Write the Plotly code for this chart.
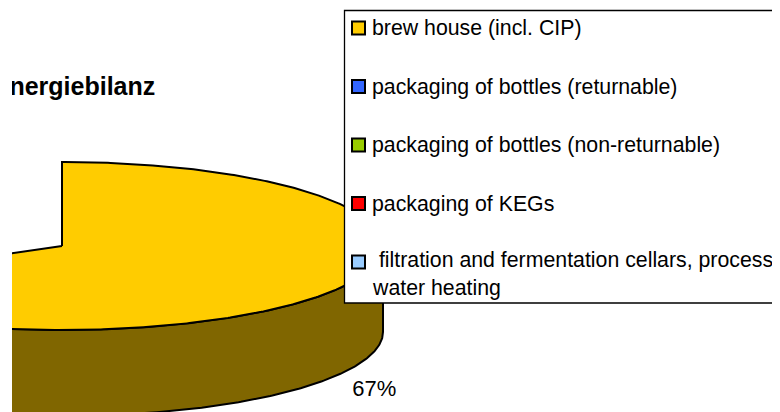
import numpy as np
import plotly.graph_objects as go

# ---------------- data ----------------
title_text = "Energiebilanz"
categories = [
    "brew house (incl. CIP)",
    "packaging of bottles (returnable)",
    "packaging of bottles (non-returnable)",
    "packaging of KEGs",
    " filtration and fermentation cellars, process<br>water heating",
]
# only the brew-house slice is visible in the picture
visible_shares = [67]
visible_labels = ["67%"]
top_colors = ["#FFCC00", "#3366FF", "#99CC00", "#FF0000", "#99CCFF"]
side_colors = ["#806600"]

# ---------------- layout parameters ----------------
W, H = 780, 412
PAGE_OFF = 8  # default page margin around the plot div
CX, CY, RX, RY, DEPTH = 62, 246, 321, 84, 86
FONT = "Liberation Sans, Arial, sans-serif"

fig = go.Figure()

start = 90.0
for share, top_c, side_c, lab in zip(visible_shares, top_colors, side_colors, visible_labels):
    sweep = share / 100.0 * 360.0
    end = start - sweep
    # side wall (front half only)
    lo, hi = max(end, -180.0), min(start, 0.0)
    if hi > lo:
        t = np.radians(np.linspace(lo, hi, 300))
        xs_top = CX + RX * np.cos(t)
        ys_top = CY - RY * np.sin(t)
        xs = np.concatenate([xs_top, xs_top[::-1], xs_top[:1]])
        ys = np.concatenate([ys_top, (ys_top + DEPTH)[::-1], ys_top[:1]])
        fig.add_trace(go.Scatter(x=xs, y=ys, mode="lines", fill="toself",
                                 fillcolor=side_c, line=dict(color="black", width=2),
                                 hoverinfo="skip", showlegend=False))
    # top face
    t = np.radians(np.linspace(start, end, 500))
    xs = np.concatenate([[CX], CX + RX * np.cos(t), [CX]])
    ys = np.concatenate([[CY], CY - RY * np.sin(t), [CY]])
    fig.add_trace(go.Scatter(x=xs, y=ys, mode="lines", fill="toself",
                             fillcolor=top_c, line=dict(color="black", width=2),
                             hoverinfo="skip", showlegend=False))
    # percentage label
    mid = np.radians(start - sweep / 2)
    lx = CX + RX * 1.13 * np.cos(mid)
    ly = CY - RY * 1.36 * np.sin(mid) + DEPTH
    fig.add_trace(go.Scatter(x=[lx], y=[ly], mode="text", text=[lab],
                             textposition="middle center",
                             textfont=dict(family=FONT, size=22, color="black"),
                             hoverinfo="skip", showlegend=False))
    start = end

# chart title (clipped at the left edge like the reference)
fig.add_trace(go.Scatter(x=[74], y=[89], mode="text", text=["<b>" + title_text + "</b>"],
                         textposition="middle center", cliponaxis=True,
                         textfont=dict(family=FONT, size=25, color="black"),
                         hoverinfo="skip", showlegend=False))

# ---------------- legend ----------------
shapes = [dict(type="rect", xref="x", yref="y", x0=344.5, x1=800, y0=10.5, y1=303,
               fillcolor="white", line=dict(color="black", width=1.3), layer="above")]
annotations = []
for i, (cat, col) in enumerate(zip(categories, top_colors)):
    yc = 28 + 58.5 * i
    shapes.append(dict(type="rect", xref="x", yref="y", x0=352, x1=365,
                       y0=yc - 6.5, y1=yc + 6.5, fillcolor=col,
                       line=dict(color="black", width=2), layer="above"))
    n_lines = cat.count("<br>") + 1
    annotations.append(dict(xref="x", yref="y", x=370, y=yc + (n_lines - 1) * 12,
                            text=cat, showarrow=False, xanchor="left", yanchor="middle",
                            align="left",
                            font=dict(family=FONT, size=21.3, color="black")))

fig.update_layout(
    width=W, height=H,
    margin=dict(l=12 - PAGE_OFF, r=PAGE_OFF, t=0, b=PAGE_OFF),
    paper_bgcolor="white", plot_bgcolor="white",
    showlegend=False,
    xaxis=dict(range=[12, W], visible=False, fixedrange=True),
    yaxis=dict(range=[H, PAGE_OFF], visible=False, fixedrange=True),
    shapes=shapes,
    annotations=annotations,
)

fig.write_html("out.html")
